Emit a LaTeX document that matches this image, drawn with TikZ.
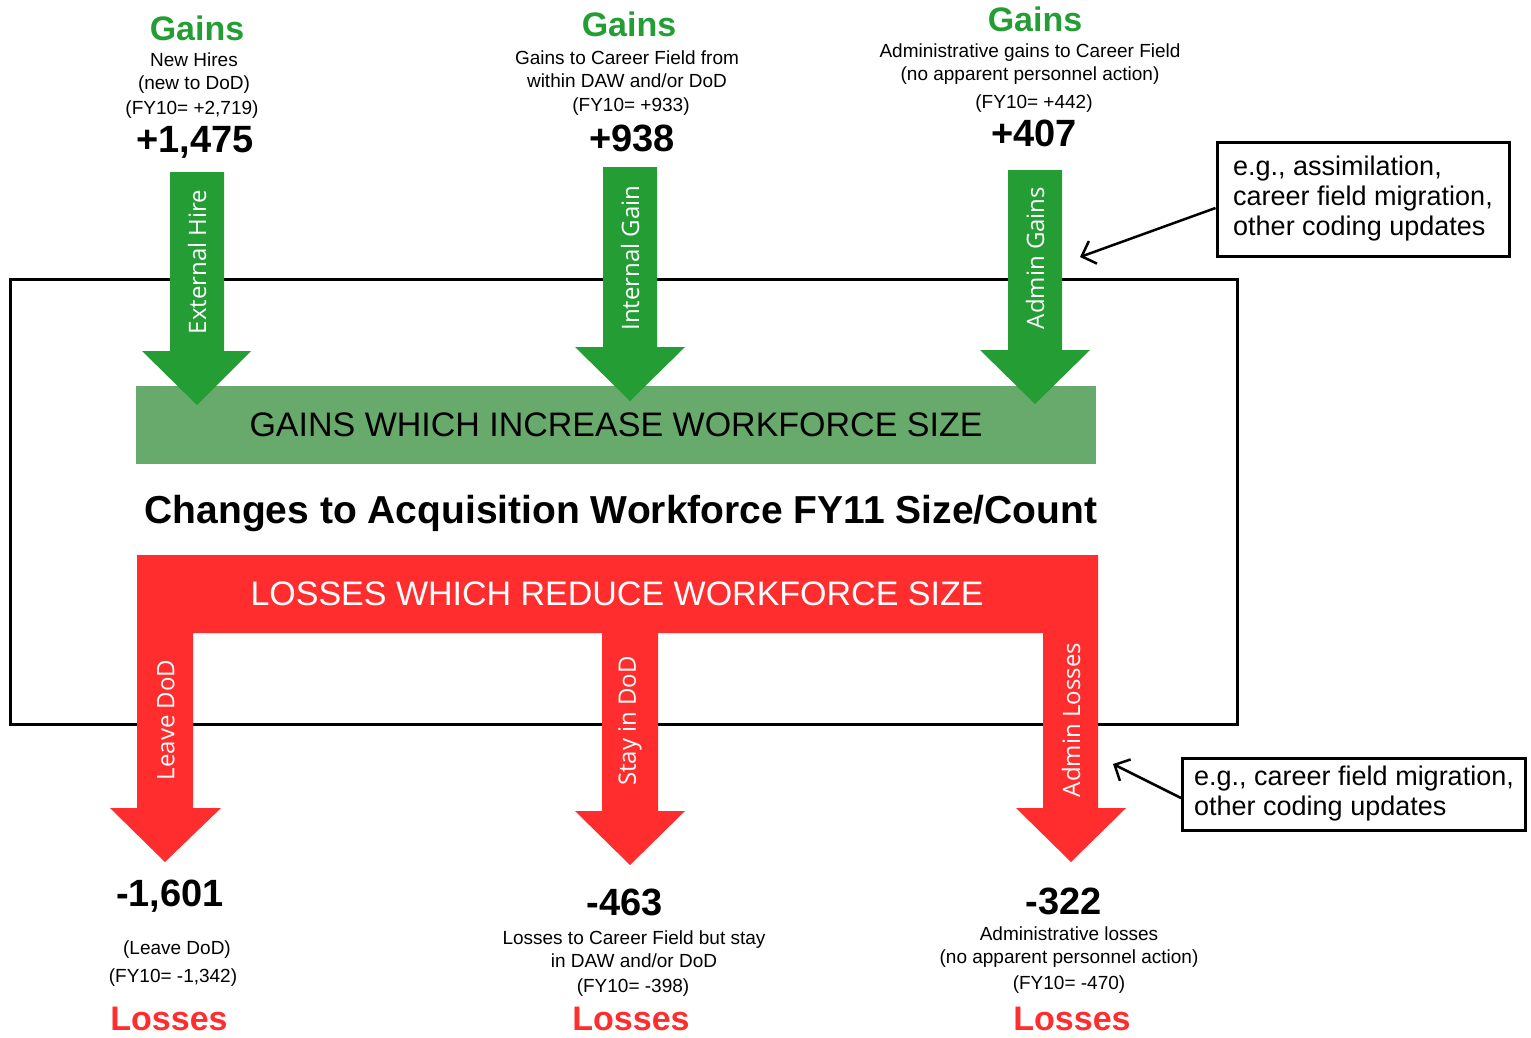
\documentclass[tikz,border=0pt]{standalone}
\usepackage{fontspec}
\setmainfont{Liberation Sans}
\newfontfamily\shaftfont{Open Sans}
\usetikzlibrary{arrows.meta}
\definecolor{gaingreen}{RGB}{36,158,52}
\definecolor{barGreen}{RGB}{104,170,108}
\definecolor{lossred}{RGB}{255,45,45}

\begin{document}
\begin{tikzpicture}[x=1pt, y=-1pt,
		desc/.style={font=\fontsize{19}{23}\selectfont, align=center, inner sep=0pt},
		bignum/.style={font=\fontsize{38}{40}\selectfont\bfseries, inner sep=0pt},
		gainhead/.style={font=\fontsize{34}{36}\selectfont\bfseries, text=gaingreen, inner sep=0pt},
		losshead/.style={font=\fontsize{34}{36}\selectfont\bfseries, text=lossred, inner sep=0pt},
		shaftlabel/.style={font=\shaftfont\fontsize{24}{26}\selectfont, text=white, rotate=90, inner sep=0pt},
		barlabel/.style={font=\fontsize{34}{36}\selectfont, inner sep=0pt},
		note/.style={draw, line width=3pt, font=\fontsize{27}{30}\selectfont, align=left, inner sep=0pt},
		pointer/.style={line width=2.5pt, -{Straight Barb[length=12pt,width=24pt]}}]
		\useasboundingbox (0,0) rectangle (1531,1037);
		\draw[line width=3pt] (10,279) rectangle (1237,724);
		\fill[barGreen] (136,386) rectangle (1096,464);
		\node[barlabel] (gainbar) at (616,425) {GAINS WHICH INCREASE WORKFORCE SIZE};
		\node[font=\fontsize{39}{41}\selectfont\bfseries, inner sep=0pt] (title) at (621,513) {Changes to Acquisition Workforce FY11 Size/Count};
		\fill[gaingreen] (170,172) -- (224,172) -- (224,351) -- (251,351) -- (197,405) -- (142,351) -- (170,351) -- cycle;
		\fill[gaingreen] (603,167) -- (657,167) -- (657,347) -- (685,347) -- (630,401) -- (575,347) -- (603,347) -- cycle;
		\fill[gaingreen] (1008,170) -- (1062,170) -- (1062,350) -- (1090,350) -- (1035,404) -- (980,350) -- (1008,350) -- cycle;
		\node[shaftlabel] (exthire) at (197,262) {External Hire};
		\node[shaftlabel] (intgain) at (630,258) {Internal Gain};
		\node[shaftlabel] (admgain) at (1035,258) {Admin Gains};
		\fill[lossred] (137,555) -- (1098,555) -- (1098,808) -- (1126,808) -- (1071,862) -- (1016,808) -- (1043,808) -- (1043,633)
			-- (658,633) -- (658,811) -- (685,811) -- (630,865) -- (575,811) -- (602,811) -- (602,633)
			-- (193,633) -- (193,808) -- (221,808) -- (165,862) -- (110,808) -- (137,808) -- cycle;
		\node[barlabel, text=white] (lossbar) at (617,594) {LOSSES WHICH REDUCE WORKFORCE SIZE};
		\node[shaftlabel] (leavedod) at (166,720) {Leave DoD};
		\node[shaftlabel] (staydod) at (630,721) {Stay in DoD};
		\node[shaftlabel] (admloss) at (1071,720) {Admin Losses};
		\node[gainhead] (gainsA) at (197,28) {Gains};
		\node[desc] (hires) at (194,73) {New Hires\\(new to DoD)};
		\node[desc] (fyA) at (192,110) {(FY10= +2,719)};
		\node[bignum] (numA) at (195,142) {+1,475};
		\node[gainhead] (gainsB) at (629,24) {Gains};
		\node[desc] (internal) at (627,69) {Gains to Career Field from\\within DAW and/or DoD};
		\node[desc] (fyB) at (631,107) {(FY10= +933)};
		\node[bignum] (numB) at (632,138) {+938};
		\node[gainhead] (gainsC) at (1035,19) {Gains};
		\node[desc] (admin) at (1030,64) {Administrative gains to Career Field\\(no apparent personnel action)};
		\node[desc] (fyC) at (1034,104) {(FY10= +442)};
		\node[bignum] (numC) at (1034,133) {+407};
		\node[bignum] (numD) at (170,896) {-1,601};
		\node[desc] (leave) at (177,950) {(Leave DoD)};
		\node[desc] (fyD) at (173,978) {(FY10= -1,342)};
		\node[losshead] (lossesA) at (169,1019) {Losses};
		\node[bignum] (numE) at (625,902) {-463};
		\node[desc] (stay) at (634,949) {Losses to Career Field but stay\\in DAW and/or DoD};
		\node[desc] (fyE) at (633,988) {(FY10= -398)};
		\node[losshead] (lossesB) at (631,1019) {Losses};
		\node[bignum] (numF) at (1064,901) {-322};
		\node[desc] (admloss) at (1069,947) {Administrative losses\\(no apparent personnel action)};
		\node[desc] (fyF) at (1069,985) {(FY10= -470)};
		\node[losshead] (lossesC) at (1072,1019) {Losses};
		\node[note, minimum width=292pt, minimum height=114pt] (assim) at (1363,199) {e.g., assimilation,\\career field migration,\\other coding updates};
		\node[note, minimum width=343pt, minimum height=72pt] (migrate) at (1354,794) {e.g., career field migration,\\other coding updates};
		\coordinate (gainpoint) at (1080,257);
		\coordinate (losspoint) at (1113,764);
		\draw[pointer] ([yshift=-9pt]assim.west) -- (gainpoint);
		\draw[pointer] ([yshift=-4pt]migrate.west) -- (losspoint);
	\end{tikzpicture}
\end{document}
